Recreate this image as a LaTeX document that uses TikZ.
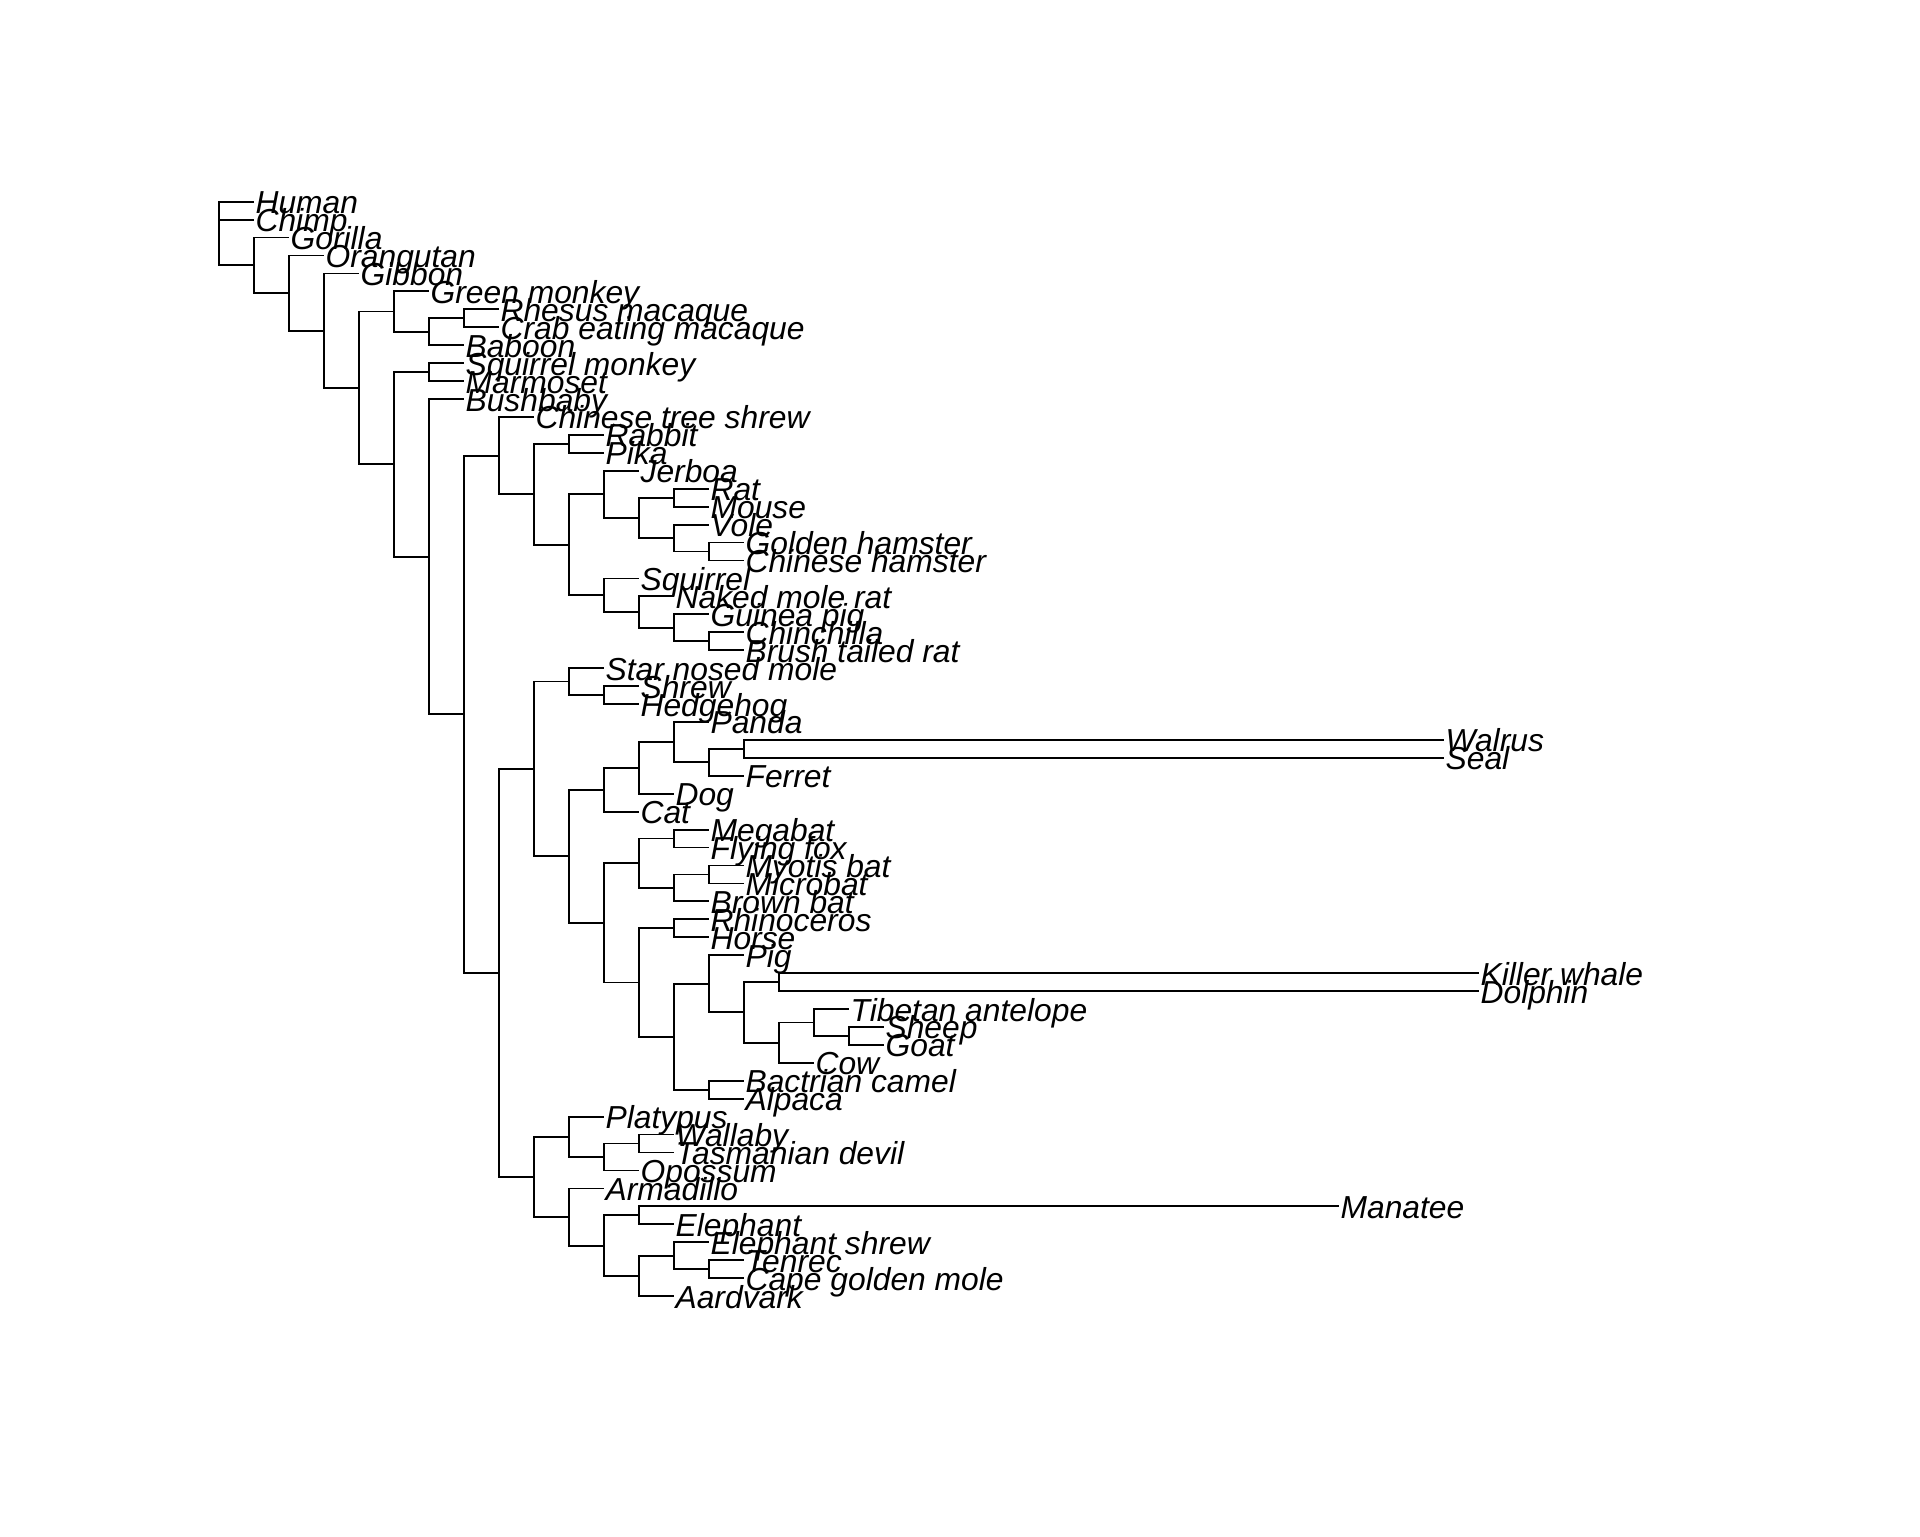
\documentclass[tikz,border=0pt]{standalone}
\usepackage{fontspec}
\setmainfont{Liberation Sans}
\usepackage{tikz}

\begin{document}
\begin{tikzpicture}[
  x=17.5pt, y=-8.97pt,
  font=\itshape\fontsize{15.9}{18}\selectfont,
  leaf/.style={anchor=west, inner xsep=0.6pt, inner ysep=0pt,
    text height=12pt, text depth=0pt},
  edge/.style={line width=0.9pt, draw=black}
]
\useasboundingbox (-6.257,-10.243) rectangle (48.6,75.376);

% Primates
\coordinate (root) at (0,2.516);
\coordinate (gorillaclade) at (1,4.548);
\coordinate (orangclade) at (2,6.096);
\coordinate (gibbonclade) at (3,8.192);
\coordinate (monkeyclade) at (4,11.384);
\coordinate (oldworld) at (5,7.125);
\coordinate (papionini) at (6,8.25);
\coordinate (macaca) at (7,7.5);
\coordinate (newworldclade) at (5,15.643);
\coordinate (newworld) at (6,10.5);
\coordinate (bushbabyclade) at (6,20.786);
\coordinate (mammalclade) at (7,29.573);

\node[leaf] (human) at (1,1) {Human};
\node[leaf] (chimp) at (1,2) {Chimp};
\node[leaf] (gorilla) at (2,3) {Gorilla};
\node[leaf] (orangutan) at (3,4) {Orangutan};
\node[leaf] (gibbon) at (4,5) {Gibbon};
\node[leaf] (greenmonkey) at (6,6) {Green monkey};
\node[leaf] (rhesus) at (8,7) {Rhesus macaque};
\node[leaf] (crabmacaque) at (8,8) {Crab eating macaque};
\node[leaf] (baboon) at (7,9) {Baboon};
\node[leaf] (squirrelmonkey) at (7,10) {Squirrel monkey};
\node[leaf] (marmoset) at (7,11) {Marmoset};
\node[leaf] (bushbaby) at (7,12) {Bushbaby};

\draw[edge] (root) |- (human) (root) |- (chimp) (root) |- (gorillaclade);
\draw[edge] (gorillaclade) |- (gorilla) (gorillaclade) |- (orangclade);
\draw[edge] (orangclade) |- (orangutan) (orangclade) |- (gibbonclade);
\draw[edge] (gibbonclade) |- (gibbon) (gibbonclade) |- (monkeyclade);
\draw[edge] (monkeyclade) |- (oldworld) (monkeyclade) |- (newworldclade);
\draw[edge] (oldworld) |- (greenmonkey) (oldworld) |- (papionini);
\draw[edge] (papionini) |- (macaca) (papionini) |- (baboon);
\draw[edge] (macaca) |- (rhesus) (macaca) |- (crabmacaque);
\draw[edge] (newworldclade) |- (newworld) (newworldclade) |- (bushbabyclade);
\draw[edge] (newworld) |- (squirrelmonkey) (newworld) |- (marmoset);
\draw[edge] (bushbabyclade) |- (bushbaby) (bushbabyclade) |- (mammalclade);

% Tree shrew and glires
\coordinate (euarchontoglires) at (8,15.156);
\coordinate (glires) at (9,17.313);
\coordinate (lagomorpha) at (10,14.5);
\coordinate (rodentia) at (10,20.125);
\coordinate (myomorpha) at (11,17.313);
\coordinate (muroidea) at (12,18.625);
\coordinate (murinae) at (13,17.5);
\coordinate (cricetidae) at (13,19.75);
\coordinate (hamsters) at (14,20.5);
\coordinate (sciuroclade) at (11,22.938);
\coordinate (hystricomorpha) at (12,23.875);
\coordinate (caviomorpha) at (13,24.75);
\coordinate (chinchilloidea) at (14,25.5);

\node[leaf] (treeshrew) at (9,13) {Chinese tree shrew};
\node[leaf] (rabbit) at (11,14) {Rabbit};
\node[leaf] (pika) at (11,15) {Pika};
\node[leaf] (jerboa) at (12,16) {Jerboa};
\node[leaf] (rat) at (14,17) {Rat};
\node[leaf] (mouse) at (14,18) {Mouse};
\node[leaf] (vole) at (14,19) {Vole};
\node[leaf] (goldenhamster) at (15,20) {Golden hamster};
\node[leaf] (chinesehamster) at (15,21) {Chinese hamster};
\node[leaf] (squirrel) at (12,22) {Squirrel};
\node[leaf] (molerat) at (13,23) {Naked mole rat};
\node[leaf] (guineapig) at (14,24) {Guinea pig};
\node[leaf] (chinchilla) at (15,25) {Chinchilla};
\node[leaf] (brushrat) at (15,26) {Brush tailed rat};

\draw[edge] (euarchontoglires) |- (treeshrew) (euarchontoglires) |- (glires);
\draw[edge] (glires) |- (lagomorpha) (glires) |- (rodentia);
\draw[edge] (lagomorpha) |- (rabbit) (lagomorpha) |- (pika);
\draw[edge] (rodentia) |- (myomorpha) (rodentia) |- (sciuroclade);
\draw[edge] (myomorpha) |- (jerboa) (myomorpha) |- (muroidea);
\draw[edge] (muroidea) |- (murinae) (muroidea) |- (cricetidae);
\draw[edge] (murinae) |- (rat) (murinae) |- (mouse);
\draw[edge] (cricetidae) |- (vole) (cricetidae) |- (hamsters);
\draw[edge] (hamsters) |- (goldenhamster) (hamsters) |- (chinesehamster);
\draw[edge] (sciuroclade) |- (squirrel) (sciuroclade) |- (hystricomorpha);
\draw[edge] (hystricomorpha) |- (molerat) (hystricomorpha) |- (caviomorpha);
\draw[edge] (caviomorpha) |- (guineapig) (caviomorpha) |- (chinchilloidea);
\draw[edge] (chinchilloidea) |- (chinchilla) (chinchilloidea) |- (brushrat);

% Laurasiatheria
\coordinate (restclade) at (8,43.990);
\coordinate (laurasiatheria) at (9,32.620);
\coordinate (eulipotyphla) at (10,27.75);
\coordinate (soricidae) at (11,28.5);
\coordinate (scrotifera) at (10,37.490);
\coordinate (carnivora) at (11,33.781);
\coordinate (caniformia) at (12,32.563);
\coordinate (arctoidea) at (13,31.125);
\coordinate (musteloidea) at (14,32.25);
\coordinate (pinnipedia) at (15,31.5);
\coordinate (fereuungulata) at (11,41.199);
\coordinate (chiroptera) at (12,37.875);
\coordinate (pteropodidae) at (13,36.5);
\coordinate (vespertilionidae) at (13,39.25);
\coordinate (myotis) at (14,38.5);
\coordinate (ungulata) at (12,44.523);
\coordinate (perissodactyla) at (13,41.5);
\coordinate (cetartiodactyla) at (13,47.547);
\coordinate (cetruminantia) at (14,44.594);
\coordinate (whippomorpha) at (15,46.188);
\coordinate (delphinidae) at (16,44.5);
\coordinate (ruminantia) at (16,47.875);
\coordinate (antilopinae) at (17,46.75);
\coordinate (caprini) at (18,47.5);
\coordinate (camelidae) at (14,50.5);

\node[leaf] (starmole) at (11,27) {Star nosed mole};
\node[leaf] (shrew) at (12,28) {Shrew};
\node[leaf] (hedgehog) at (12,29) {Hedgehog};
\node[leaf] (panda) at (14,30) {Panda};
\node[leaf] (walrus) at (35,31) {Walrus};
\node[leaf] (seal) at (35,32) {Seal};
\node[leaf] (ferret) at (15,33) {Ferret};
\node[leaf] (dog) at (13,34) {Dog};
\node[leaf] (cat) at (12,35) {Cat};
\node[leaf] (megabat) at (14,36) {Megabat};
\node[leaf] (flyingfox) at (14,37) {Flying fox};
\node[leaf] (myotisbat) at (15,38) {Myotis bat};
\node[leaf] (microbat) at (15,39) {Microbat};
\node[leaf] (brownbat) at (14,40) {Brown bat};
\node[leaf] (rhino) at (14,41) {Rhinoceros};
\node[leaf] (horse) at (14,42) {Horse};
\node[leaf] (pig) at (15,43) {Pig};
\node[leaf] (killerwhale) at (36,44) {Killer whale};
\node[leaf] (dolphin) at (36,45) {Dolphin};
\node[leaf] (antelope) at (18,46) {Tibetan antelope};
\node[leaf] (sheep) at (19,47) {Sheep};
\node[leaf] (goat) at (19,48) {Goat};
\node[leaf] (cow) at (17,49) {Cow};
\node[leaf] (camel) at (15,50) {Bactrian camel};
\node[leaf] (alpaca) at (15,51) {Alpaca};

\draw[edge] (mammalclade) |- (euarchontoglires) (mammalclade) |- (restclade);
\draw[edge] (laurasiatheria) |- (eulipotyphla) (laurasiatheria) |- (scrotifera);
\draw[edge] (eulipotyphla) |- (starmole) (eulipotyphla) |- (soricidae);
\draw[edge] (soricidae) |- (shrew) (soricidae) |- (hedgehog);
\draw[edge] (scrotifera) |- (carnivora) (scrotifera) |- (fereuungulata);
\draw[edge] (carnivora) |- (caniformia) (carnivora) |- (cat);
\draw[edge] (caniformia) |- (arctoidea) (caniformia) |- (dog);
\draw[edge] (arctoidea) |- (panda) (arctoidea) |- (musteloidea);
\draw[edge] (musteloidea) |- (pinnipedia) (musteloidea) |- (ferret);
\draw[edge] (pinnipedia) |- (walrus) (pinnipedia) |- (seal);
\draw[edge] (fereuungulata) |- (chiroptera) (fereuungulata) |- (ungulata);
\draw[edge] (chiroptera) |- (pteropodidae) (chiroptera) |- (vespertilionidae);
\draw[edge] (pteropodidae) |- (megabat) (pteropodidae) |- (flyingfox);
\draw[edge] (vespertilionidae) |- (myotis) (vespertilionidae) |- (brownbat);
\draw[edge] (myotis) |- (myotisbat) (myotis) |- (microbat);
\draw[edge] (ungulata) |- (perissodactyla) (ungulata) |- (cetartiodactyla);
\draw[edge] (perissodactyla) |- (rhino) (perissodactyla) |- (horse);
\draw[edge] (cetartiodactyla) |- (cetruminantia) (cetartiodactyla) |- (camelidae);
\draw[edge] (cetruminantia) |- (pig) (cetruminantia) |- (whippomorpha);
\draw[edge] (whippomorpha) |- (delphinidae) (whippomorpha) |- (ruminantia);
\draw[edge] (delphinidae) |- (killerwhale) (delphinidae) |- (dolphin);
\draw[edge] (ruminantia) |- (antilopinae) (ruminantia) |- (cow);
\draw[edge] (antilopinae) |- (antelope) (antilopinae) |- (caprini);
\draw[edge] (caprini) |- (sheep) (caprini) |- (goat);
\draw[edge] (camelidae) |- (camel) (camelidae) |- (alpaca);

% Marsupials, platypus and atlantogenata
\coordinate (otherclade) at (9,55.359);
\coordinate (marsupialclade) at (10,53.125);
\coordinate (marsupialia) at (11,54.25);
\coordinate (australidelphia) at (12,53.5);
\coordinate (atlantogenata) at (10,57.594);
\coordinate (afrotheria) at (11,59.188);
\coordinate (paenungulata) at (12,57.5);
\coordinate (afroinsectiphilia) at (12,60.875);
\coordinate (afroinsectivora) at (13,59.75);
\coordinate (tenrecoidea) at (14,60.5);

\node[leaf] (platypus) at (11,52) {Platypus};
\node[leaf] (wallaby) at (13,53) {Wallaby};
\node[leaf] (tasdevil) at (13,54) {Tasmanian devil};
\node[leaf] (opossum) at (12,55) {Opossum};
\node[leaf] (armadillo) at (11,56) {Armadillo};
\node[leaf] (manatee) at (32,57) {Manatee};
\node[leaf] (elephant) at (13,58) {Elephant};
\node[leaf] (eleshrew) at (14,59) {Elephant shrew};
\node[leaf] (tenrec) at (15,60) {Tenrec};
\node[leaf] (goldenmole) at (15,61) {Cape golden mole};
\node[leaf] (aardvark) at (13,62) {Aardvark};

\draw[edge] (restclade) |- (laurasiatheria) (restclade) |- (otherclade);
\draw[edge] (otherclade) |- (marsupialclade) (otherclade) |- (atlantogenata);
\draw[edge] (marsupialclade) |- (platypus) (marsupialclade) |- (marsupialia);
\draw[edge] (marsupialia) |- (australidelphia) (marsupialia) |- (opossum);
\draw[edge] (australidelphia) |- (wallaby) (australidelphia) |- (tasdevil);
\draw[edge] (atlantogenata) |- (armadillo) (atlantogenata) |- (afrotheria);
\draw[edge] (afrotheria) |- (paenungulata) (afrotheria) |- (afroinsectiphilia);
\draw[edge] (paenungulata) |- (manatee) (paenungulata) |- (elephant);
\draw[edge] (afroinsectiphilia) |- (afroinsectivora) (afroinsectiphilia) |- (aardvark);
\draw[edge] (afroinsectivora) |- (eleshrew) (afroinsectivora) |- (tenrecoidea);
\draw[edge] (tenrecoidea) |- (tenrec) (tenrecoidea) |- (goldenmole);

\end{tikzpicture}
\end{document}
